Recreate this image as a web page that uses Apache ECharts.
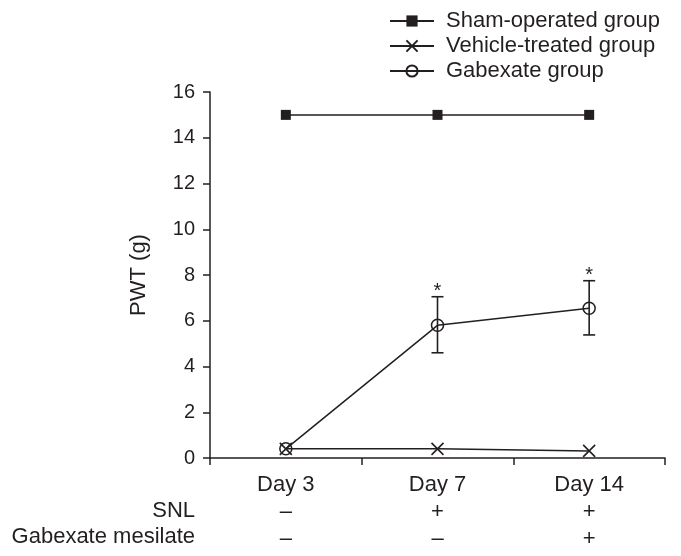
<!DOCTYPE html>
<html><head><meta charset="utf-8">
<script src="https://cdn.jsdelivr.net/npm/echarts@6/dist/echarts.min.js"></script>
<style>html,body{margin:0;padding:0;background:#fff}#c{width:681px;height:556px}</style>
</head><body><div id="c"></div>
<script>
const categories = ['Day 3', 'Day 7', 'Day 14'];
const shamValues = [15, 15, 15];
const vehicleValues = [0.4, 0.4, 0.31];
const gabexateValues = [0.4, 5.8, 6.55];
const gabexateErrLow = [null, 4.6, 5.38];
const gabexateErrHigh = [null, 7.05, 7.75];
const significance = ['', '*', '*'];
const snlRow = ['–', '+', '+'];
const gabexateMesilateRow = ['–', '–', '+'];
const yTicks = [0, 2, 4, 6, 8, 10, 12, 14, 16];
const seriesNames = ['Sham-operated group', 'Vehicle-treated group', 'Gabexate group'];

const ink = '#231f20';
const font = 'Liberation Sans, Arial, sans-serif';
const chart = echarts.init(document.getElementById('c'));

const errData = categories.map((c, i) => [i, gabexateErrLow[i], gabexateErrHigh[i], significance[i]])
  .filter(d => d[1] != null);

chart.setOption({
  animation: false,
  grid: { left: 210, right: 16, top: 92, bottom: 98, containLabel: false },
  legend: {
    orient: 'vertical', left: 389, top: 10, padding: 0, itemWidth: 44, itemHeight: 14, itemGap: 3,
    textStyle: { fontFamily: font, fontSize: 22, lineHeight: 22, color: ink, padding: [0, 0, 0, 7] },
    data: seriesNames
  },
  xAxis: {
    type: 'category', data: categories, boundaryGap: true,
    axisLine: { lineStyle: { color: ink, width: 1.5 } },
    axisTick: { show: true, length: 7, inside: false, lineStyle: { color: ink, width: 1.5 } },
    axisLabel: {
      margin: 13, color: ink, fontFamily: font, fontSize: 22, lineHeight: 27,
      formatter: (v, i) => v + '\n' + snlRow[i] + '\n' + gabexateMesilateRow[i]
    },
    splitLine: { show: false }
  },
  yAxis: {
    type: 'value', min: yTicks[0], max: yTicks[yTicks.length - 1], interval: 2,
    name: 'PWT (g)', nameLocation: 'middle', nameGap: 60, nameRotate: 90,
    nameTextStyle: { fontFamily: font, fontSize: 22, color: ink },
    axisLine: { show: true, lineStyle: { color: ink, width: 1.5 } },
    axisTick: { show: true, length: 7, lineStyle: { color: ink, width: 1.5 } },
    axisLabel: { margin: 15, color: ink, fontFamily: font, fontSize: 20 },
    splitLine: { show: false }
  },
  graphic: [
    { type: 'text', x: 195, y: 511, style: { text: 'SNL', font: '22px ' + font, fill: ink, align: 'right', verticalAlign: 'middle' } },
    { type: 'text', x: 195, y: 537, style: { text: 'Gabexate mesilate', font: '22px ' + font, fill: ink, align: 'right', verticalAlign: 'middle' } }
  ],
  series: [
    {
      name: seriesNames[0], type: 'line', data: shamValues,
      symbol: 'rect', symbolSize: 10,
      itemStyle: { color: ink }, lineStyle: { color: ink, width: 1.5 }, z: 3
    },
    {
      name: seriesNames[1], type: 'line', data: vehicleValues,
      symbol: 'path://M0,0L10,10M10,0L0,10', symbolSize: 12,
      itemStyle: { color: 'none', borderColor: ink, borderWidth: 1.6 },
      lineStyle: { color: ink, width: 1.5 }, z: 3
    },
    {
      name: seriesNames[2], type: 'line', data: gabexateValues,
      symbol: 'circle', symbolSize: 12,
      itemStyle: { color: 'none', borderColor: ink, borderWidth: 1.5 },
      lineStyle: { color: ink, width: 1.5 }, z: 4
    },
    {
      type: 'custom', data: errData, z: 5,
      renderItem: function (params, api) {
        const x = api.value(0);
        const lo = api.coord([x, api.value(1)]);
        const hi = api.coord([x, api.value(2)]);
        const hw = 6;
        return {
          type: 'group',
          children: [
            { type: 'line', shape: { x1: lo[0], y1: lo[1], x2: hi[0], y2: hi[1] }, style: { stroke: ink, lineWidth: 1.6 } },
            { type: 'line', shape: { x1: lo[0] - hw, y1: lo[1], x2: lo[0] + hw, y2: lo[1] }, style: { stroke: ink, lineWidth: 1.6 } },
            { type: 'line', shape: { x1: hi[0] - hw, y1: hi[1], x2: hi[0] + hw, y2: hi[1] }, style: { stroke: ink, lineWidth: 1.6 } },
            { type: 'text', x: hi[0], y: hi[1] - 15, style: { text: api.value(3), font: '20px ' + font, fill: ink, align: 'center', verticalAlign: 'top' } }
          ]
        };
      }
    }
  ]
});
</script></body></html>
